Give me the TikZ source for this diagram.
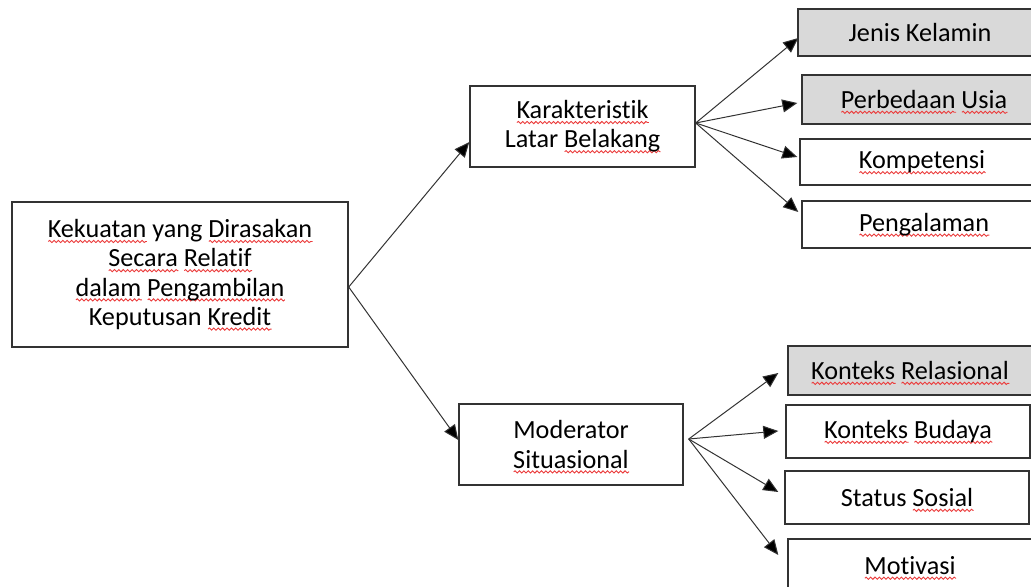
\documentclass[tikz,border=0pt]{standalone}
\usepackage{fontspec}
\setmainfont{Carlito}[Ligatures={NoCommon,NoContextual}]
\usetikzlibrary{arrows.meta,calc,decorations.pathmorphing}

\definecolor{splred}{RGB}{235,60,60}
\definecolor{boxgray}{RGB}{217,217,217}

% red wavy underline (spell check marks)
\newlength\splw
\newcommand\spl[1]{\settowidth\splw{#1}\rlap{\smash{\tikz[x=1pt, y=1pt, baseline=0pt]
  \draw[splred, line width=0.45pt, decorate, decoration={snake, amplitude=0.55pt, segment length=2.2pt}]
  (0,-1.9) -- (\splw,-1.9pt);}}#1}

\begin{document}
\begin{tikzpicture}[x=0.5pt, y=-0.5pt,
  font=\fontsize{13.1}{14.6}\selectfont,
  box/.style={draw=black!80, line width=0.7pt, align=center, inner sep=0pt},
  graybox/.style={box, fill=boxgray},
  arr/.style={draw=black!80, line width=0.5pt, -{Triangle[length=7.5pt, width=6.5pt, fill=black]}}]
  \useasboundingbox (0,0) rectangle (1031,587);
  \clip (0,0) rectangle (1031,587);

  % left and middle boxes
  \node[box, minimum width=168pt, minimum height=72.5pt] (kekuatan) at (180,274.5)
    {\spl{Kekuatan} yang \spl{Dirasakan}\\ \spl{Secara} \spl{Relatif}\\ \spl{dalam} \spl{Pengambilan}\\ Keputusan \spl{Kredit}};
  \node[box, minimum width=112.5pt, minimum height=40.5pt] (latar) at (582.5,126.5)
    {\spl{Karakteristik}\\ Latar \spl{Belakang}};
  \node[box, minimum width=112pt, minimum height=40.5pt] (moderator) at (571,444.5)
    {Moderator\\ \spl{Situasional}};

  % right boxes
  \node[graybox, minimum width=122pt, minimum height=23.5pt] (kelamin) at (920,32.5) {Jenis Kelamin};
  \node[graybox, minimum width=122pt, minimum height=24.5pt] (usia) at (924,99.5) {\spl{Perbedaan} \spl{Usia}};
  \node[box, minimum width=122pt, minimum height=23pt] (kompetensi) at (922,162) {\spl{Kompetensi}};
  \node[box, minimum width=122pt, minimum height=23.5pt] (pengalaman) at (924,224.5) {\spl{Pengalaman}};
  \node[graybox, minimum width=122pt, minimum height=24.5pt] (relasional) at (910,370.5) {\spl{Konteks} \spl{Relasional}};
  \node[box, minimum width=122pt, minimum height=26.5pt] (budaya) at (908,431.5) {\spl{Konteks} \spl{Budaya}};
  \node[box, minimum width=122pt, minimum height=26.5pt] (sosial) at (907,497.5) {Status \spl{Sosial}};
  \node[box, minimum width=122pt, minimum height=26.5pt] (motivasi) at (910,565.5) {\spl{Motivasi}};

  % connectors
  \coordinate (kapex) at ($(kekuatan.east)+(0,12.5)$);
  \coordinate (lfan) at ($(latar.east)+(0,-3.5)$);
  \coordinate (mfan) at ($(moderator.east)+(5,-5.5)$);
  \draw[arr] (kapex) -- ($(latar.west)+(0,15.5)$);
  \draw[arr] (kapex) -- ($(moderator.west)+(0,-4.5)$);
  \foreach \t/\dx/\dy in {kelamin/1/5.5, usia/-4/3.5, kompetensi/-2/-5, pengalaman/-3/-12.5}
    \draw[arr] (lfan) -- ($(\t.west)+(\dx,\dy)$);
  \foreach \t/\dx/\dy in {relasional/-9/2.5, budaya/-7/-0.5, sosial/-6/-5.5, motivasi/-9/-10.5}
    \draw[arr] (mfan) -- ($(\t.west)+(\dx,\dy)$);
\end{tikzpicture}
\end{document}
